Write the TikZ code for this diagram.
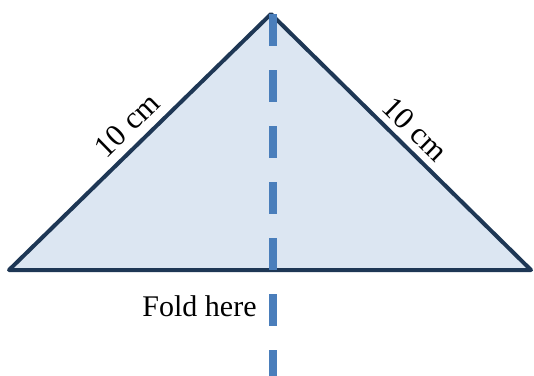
\documentclass[tikz,border=0pt]{standalone}
\usepackage{fontspec}
\setmainfont{Liberation Serif}
\definecolor{edge}{RGB}{30,55,85}
\definecolor{tri}{RGB}{220,230,242}
\definecolor{fold}{RGB}{74,126,187}
\tikzset{
  sidelabel/.style={font=\fontsize{31}{31}\selectfont, inner sep=0pt},
  foldlabel/.style={font=\fontsize{30}{30}\selectfont, inner sep=0pt},
  outline/.style={draw=edge, line width=4pt, line join=round, fill=tri},
  foldline/.style={draw=fold, line width=8pt, dash pattern=on 32pt off 24pt}
}
\begin{document}
\begin{tikzpicture}[x=1pt,y=-1pt]
\useasboundingbox (0,0) rectangle (534,375);
\coordinate (apex) at (271,14);
\coordinate (left) at (9,270);
\coordinate (right) at (531,270);
\coordinate (ftop) at (273,14);
\coordinate (fbot) at (273,380);
\path[outline] (apex) -- (right) -- (left) -- cycle;
\draw[foldline] (ftop) -- (fbot);
\node[sidelabel, rotate=44.3] (l1) at (127,125) {10 cm};
\node[sidelabel, rotate=-44.5] (l2) at (415,129) {10 cm};
\node[foldlabel] (fh) at (199.5,306) {Fold here};
\end{tikzpicture}
\end{document}
